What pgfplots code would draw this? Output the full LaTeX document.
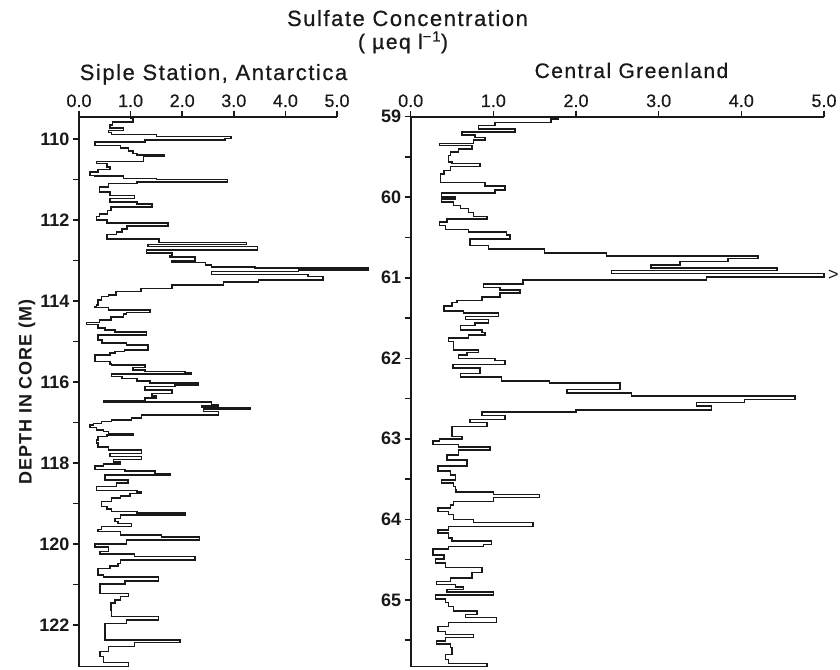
\documentclass[border=0pt]{standalone}
\usepackage{fontspec}
\setmainfont{Liberation Sans}
\newfontfamily\titlefont[LetterSpace=7,FakeBold=0.6]{Liberation Sans}
\newfontfamily\tickfont[FakeBold=0.5]{Liberation Sans}
\newfontfamily\labfont[LetterSpace=5]{Liberation Sans}
\usepackage{pgfplots}
\pgfplotsset{compat=1.18}
\definecolor{ink}{RGB}{25,25,25}
\pgfplotsset{
 core/.style={
  scale only axis, height=550pt, clip=false,
  axis x line*=top, axis y line*=left, y dir=reverse,
  xmin=0, xmax=5, xtick={0,1,2,3,4,5}, xticklabels={0.0,1.0,2.0,3.0,4.0,5.0},
  tick align=outside, major tick length=6pt, minor tick length=6pt,
  axis line style={line width=1.6pt, ink, -},
  every tick/.style={line width=1.5pt, ink},
  xticklabel style={font=\tickfont\fontsize{18}{18}\selectfont, text=ink},
  yticklabel style={font=\bfseries\fontsize{18}{18}\selectfont, text=ink},
  /pgf/number format/assume math mode=true,
  /pgf/number format/1000 sep={},
 }
}
\begin{document}
\begin{tikzpicture}[x=1pt,y=1pt]
\path[use as bounding box] (0,0) rectangle (840,669);
\begin{axis}[core, at={(79pt,2.3pt)}, width=258pt, ymin=109.45, ymax=123.03,
  ytick={110,112,...,122}, minor ytick={111,113,...,121}]
\addplot[ink, line width=1.5pt, const plot mark right] coordinates {
(0,109.45) (1.00,109.45) (1.05,109.50) (0.65,109.58) (0.60,109.66) (0.86,109.73)
(0.57,109.79) (0.63,109.84) (1.50,109.89) (2.95,109.94) (2.83,109.99) (1.28,110.02)
(0.31,110.07) (0.80,110.16) (0.96,110.22) (1.05,110.30) (1.12,110.36) (1.65,110.39)
(1.25,110.43) (0.34,110.55) (0.54,110.61) (0.60,110.69) (0.37,110.75) (0.21,110.81)
(0.30,110.90) (0.86,110.92) (1.50,110.98) (2.88,111.00) (1.12,111.06) (0.57,111.10)
(0.40,111.19) (0.60,111.31) (1.08,111.39) (0.60,111.47) (1.12,111.55) (1.41,111.60)
(0.62,111.68) (0.55,111.76) (0.40,111.85) (0.34,111.92) (0.54,112.00) (1.72,112.07)
(0.93,112.15) (0.83,112.22) (0.73,112.30) (0.54,112.36) (1.55,112.47) (3.25,112.55)
(1.34,112.60) (3.46,112.66) (1.31,112.74) (1.80,112.82) (1.75,112.88) (2.25,112.92)
(1.80,113.01) (2.45,113.05) (2.57,113.11) (3.41,113.16) (5.60,113.18) (4.25,113.23)
(2.57,113.27) (4.44,113.35) (4.73,113.40) (3.48,113.48) (2.80,113.53) (1.80,113.60)
(1.20,113.69) (0.72,113.77) (0.57,113.85) (0.44,113.89) (0.37,113.98) (0.34,114.10)
(0.31,114.14) (0.57,114.16) (1.38,114.22) (0.92,114.28) (0.86,114.32) (0.62,114.39)
(0.40,114.47) (0.15,114.53) (0.37,114.58) (0.50,114.67) (0.70,114.72) (1.31,114.76)
(0.37,114.84) (0.45,114.96) (0.92,115.04) (1.34,115.09) (0.88,115.21) (0.70,115.25)
(0.60,115.29) (0.31,115.33) (0.60,115.50) (0.63,115.55) (1.28,115.58) (1.05,115.64)
(1.28,115.70) (2.05,115.74) (2.17,115.77) (0.63,115.80) (0.83,115.87) (1.12,115.91)
(1.38,115.97) (2.31,116.02) (1.86,116.07) (1.28,116.11) (1.80,116.20) (1.41,116.28)
(1.50,116.34) (1.28,116.40) (0.47,116.46) (2.57,116.50) (2.70,116.55) (2.38,116.59)
(3.31,116.63) (2.41,116.67) (2.70,116.73) (1.21,116.81) (1.02,116.89) (0.63,116.94)
(0.44,116.98) (0.28,117.02) (0.21,117.06) (0.34,117.12) (0.47,117.18) (0.57,117.22)
(1.05,117.27) (0.54,117.31) (0.37,117.35) (0.34,117.43) (0.37,117.51) (0.57,117.60)
(1.21,117.68) (0.60,117.76) (1.21,117.84) (0.67,117.91) (0.80,117.97) (0.47,118.02)
(0.31,118.07) (0.89,118.16) (1.47,118.20) (1.76,118.26) (0.50,118.30) (0.95,118.42)
(0.73,118.50) (0.34,118.58) (1.12,118.68) (1.21,118.72) (0.99,118.75) (0.80,118.81)
(0.63,118.87) (0.44,118.95) (0.54,119.08) (0.63,119.14) (1.12,119.20) (2.05,119.24)
(0.80,119.28) (0.70,119.37) (0.76,119.45) (1.02,119.49) (0.44,119.57) (0.37,119.64)
(0.80,119.69) (1.60,119.78) (2.34,119.83) (0.92,119.90) (0.31,120.00) (0.57,120.08)
(0.41,120.19) (1.08,120.25) (2.25,120.31) (0.80,120.40) (0.76,120.48) (0.60,120.54)
(0.37,120.60) (0.47,120.77) (1.54,120.82) (0.89,120.91) (0.41,120.99) (0.96,121.22)
(0.80,121.30) (0.70,121.38) (0.62,121.46) (0.63,121.63) (1.54,121.79) (0.92,121.88)
(0.50,121.96) (1.96,122.37) (1.08,122.43) (0.57,122.53) (0.41,122.66) (0.47,122.78)
(0.96,122.92) (0,123.03)
};
\end{axis}
\begin{axis}[core, at={(410.7pt,2.3pt)}, width=413.3pt, ymin=59, ymax=65.83,
  ytick={59,...,65}, minor ytick={59.5,60.5,...,65.5}]
\addplot[ink, line width=1.5pt, const plot mark right] coordinates {
(0,59.00) (1.79,59.00) (1.70,59.03) (1.02,59.07) (0.82,59.11) (1.26,59.15)
(0.62,59.19) (0.78,59.23) (0.90,59.26) (0.76,59.29) (0.35,59.33) (0.74,59.36)
(0.58,59.40) (0.48,59.44) (0.46,59.48) (0.50,59.56) (0.84,59.58) (0.48,59.62)
(0.40,59.67) (0.36,59.71) (0.90,59.82) (1.14,59.86) (1.02,59.91) (0.37,59.95)
(0.54,60.00) (0.37,60.02) (0.52,60.06) (0.60,60.10) (0.70,60.14) (0.76,60.19)
(0.92,60.24) (0.44,60.27) (0.35,60.31) (0.42,60.35) (0.70,60.40) (1.16,60.43)
(1.20,60.47) (0.72,60.52) (0.94,60.60) (1.62,60.64) (2.37,60.69) (4.20,60.73)
(3.84,60.76) (3.26,60.80) (2.91,60.84) (4.43,60.88) (2.43,60.91) (5.00,60.95)
(3.58,60.99) (1.36,61.03) (0.88,61.08) (1.08,61.12) (1.32,61.15) (1.08,61.19)
(0.86,61.24) (0.56,61.28) (0.50,61.31) (0.40,61.35) (0.64,61.41) (1.06,61.44)
(0.66,61.48) (0.94,61.52) (0.78,61.56) (0.60,61.59) (0.86,61.65) (0.90,61.68)
(0.70,61.71) (0.46,61.75) (0.52,61.79) (0.82,61.90) (0.68,61.93) (0.58,61.96)
(1.02,62.00) (1.14,62.03) (0.51,62.08) (0.84,62.12) (0.60,62.19) (1.10,62.23)
(1.68,62.28) (2.53,62.31) (1.89,62.39) (2.67,62.43) (4.65,62.47) (4.04,62.51)
(3.46,62.55) (3.64,62.59) (2.00,62.64) (0.86,62.67) (1.14,62.71) (0.72,62.76)
(0.92,62.80) (0.50,62.85) (0.62,62.97) (0.35,63.00) (0.27,63.03) (0.58,63.07)
(0.96,63.10) (0.58,63.14) (0.44,63.20) (0.68,63.26) (0.33,63.34) (0.48,63.40)
(0.54,63.45) (0.37,63.51) (0.52,63.55) (0.54,63.59) (0.55,63.63) (1.00,63.66)
(1.56,63.69) (1.00,63.73) (0.52,63.78) (0.48,63.82) (0.33,63.86) (0.46,63.90)
(0.52,63.94) (0.76,64.00) (1.48,64.04) (0.46,64.09) (0.33,64.13) (0.46,64.17)
(0.50,64.23) (0.98,64.27) (0.88,64.31) (0.46,64.34) (0.27,64.37) (0.40,64.44)
(0.30,64.49) (0.42,64.54) (0.86,64.60) (0.74,64.66) (0.48,64.73) (0.31,64.77)
(0.54,64.81) (0.64,64.84) (0.44,64.87) (1.00,64.90) (0.30,64.94) (0.42,64.99)
(0.46,65.03) (0.52,65.08) (0.80,65.14) (0.66,65.18) (1.04,65.22) (0.46,65.28)
(0.33,65.33) (0.42,65.39) (0.76,65.43) (0.42,65.47) (0.31,65.51) (0.48,65.55)
(0.50,65.59) (0.42,65.68) (0.46,65.74) (0.92,65.79) (0,65.83)
};
\node[anchor=west, inner sep=1pt, xshift=3pt, text=ink, font=\fontsize{18}{18}\selectfont] at (axis cs:5,60.97) {>};
\end{axis}
\node[anchor=base, text=ink, font=\titlefont\fontsize{22}{22}\selectfont] at (407.5,643) {Sulfate Concentration};
\node[anchor=base, text=ink, font=\titlefont\fontsize{21}{21}\selectfont] at (403,620) {( µeq l\textsuperscript{−1})};
\node[anchor=base, text=ink, font=\titlefont\fontsize{22}{22}\selectfont] at (213.5,589) {Siple Station, Antarctica};
\node[anchor=base, text=ink, font=\titlefont\fontsize{21}{21}\selectfont] at (631.5,591) {Central Greenland};
\node[rotate=90, text=ink, font=\labfont\bfseries\fontsize{18}{18}\selectfont] at (27,277) {DEPTH IN CORE (M)};
\end{tikzpicture}
\end{document}
